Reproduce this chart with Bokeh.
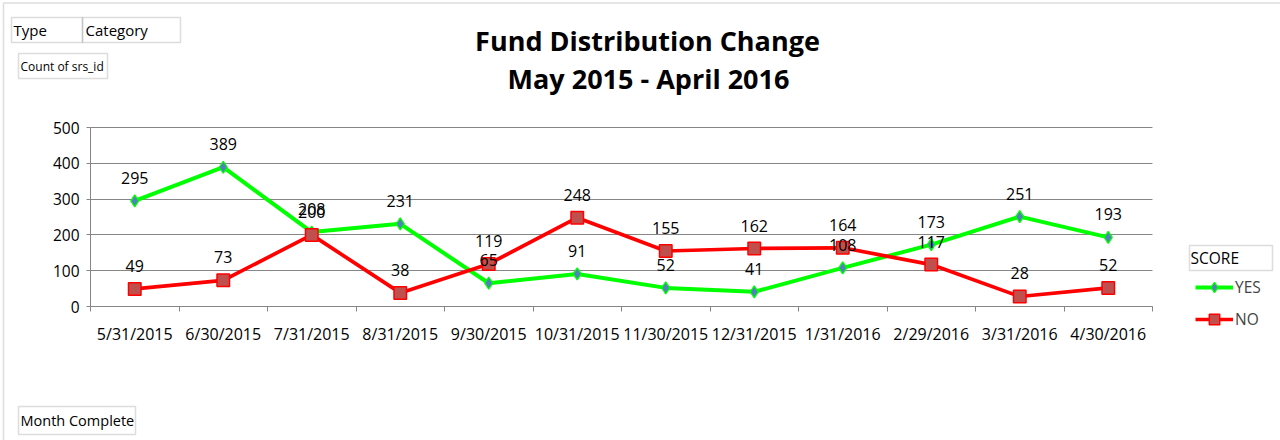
from bokeh.plotting import figure
from bokeh.models import Range1d, FixedTicker, Label, BoxAnnotation, Legend, LegendItem
from bokeh.core.properties import value
from bokeh.embed import file_html
from bokeh.resources import INLINE

months = ["5/31/2015", "6/30/2015", "7/31/2015", "8/31/2015", "9/30/2015", "10/31/2015",
          "11/30/2015", "12/31/2015", "1/31/2016", "2/29/2016", "3/31/2016", "4/30/2016"]
yes_counts = [295, 389, 208, 231, 65, 91, 52, 41, 108, 173, 251, 193]
no_counts = [49, 73, 200, 38, 119, 248, 155, 162, 164, 117, 28, 52]
y_ticks = [0, 100, 200, 300, 400, 500]

n = len(months)
xs = [i + 0.5 for i in range(n)]
bounds = list(range(n + 1))

FONT = "Open Sans"
GRID = "#868686"
BOX = "#8f8f8f"

# canvas layout (pixels)
W, H = 1280, 440
PL, PR, PT, PB = 90, 1152, 127, 306   # plot area edges
YMAX = y_ticks[-1]
xpu = (PR - PL) / n
ypu = (PB - PT) / YMAX
x_range = Range1d(-PL / xpu, n + (W - PR) / xpu)
y_range = Range1d(-(H - PB) / ypu, YMAX + PT / ypu)

p = figure(width=W, height=H, output_backend="svg", toolbar_location=None,
           x_range=x_range, y_range=y_range, title=None)
p.min_border = 0
p.outline_line_color = None
p.xgrid.visible = False
p.ygrid.ticker = FixedTicker(ticks=y_ticks)
p.ygrid.grid_line_color = GRID
p.ygrid.cross_bounds = (0, n)

p.yaxis.fixed_location = 0
p.yaxis.bounds = (0, YMAX)
p.yaxis.ticker = FixedTicker(ticks=y_ticks)
p.yaxis.axis_line_color = GRID
p.yaxis.major_tick_line_color = GRID
p.yaxis.major_tick_out = 4
p.yaxis.major_tick_in = 0
p.yaxis.minor_tick_line_color = None
p.yaxis.major_label_text_font = FONT
p.yaxis.major_label_text_font_size = "15.5px"
p.yaxis.major_label_text_color = "black"
p.yaxis.major_label_standoff = 7

p.xaxis.fixed_location = 0
p.xaxis.bounds = (0, n)
p.xaxis.ticker = FixedTicker(ticks=xs, minor_ticks=bounds)
p.xaxis.major_label_overrides = {x: m for x, m in zip(xs, months)}
p.xaxis.axis_line_color = GRID
p.xaxis.major_tick_line_color = None
p.xaxis.major_tick_out = 0
p.xaxis.major_tick_in = 0
p.xaxis.minor_tick_line_color = GRID
p.xaxis.minor_tick_out = 5
p.xaxis.minor_tick_in = 0
p.xaxis.major_label_text_font = FONT
p.xaxis.major_label_text_font_size = "16px"
p.xaxis.major_label_text_color = "black"
p.xaxis.major_label_standoff = 11

yes_line = p.line(xs, yes_counts, line_color="#00FF00", line_width=4)
yes_mk = p.scatter(xs, yes_counts, marker="diamond", size=12,
                   fill_color="#4F81BD", line_color="#00FF00", line_width=1.3)
no_line = p.line(xs, no_counts, line_color="#FF0000", line_width=3.7)
no_mk = p.scatter(xs, no_counts, marker="square", size=12.5,
                  fill_color="#C0504D", line_color="#FF0000", line_width=1.5)

for vals in (yes_counts, no_counts):
    p.text(x=xs, y=vals, text=[str(v) for v in vals], y_offset=-23,
           text_align="center", text_baseline="middle", text_color="black",
           text_font=value(FONT), text_font_size="16px")

def sy(py):
    return H - py

legend = Legend(items=[LegendItem(label="YES", renderers=[yes_line, yes_mk]),
                       LegendItem(label="NO", renderers=[no_line, no_mk])],
                location=(1195, sy(332)), orientation="vertical", padding=0, margin=0,
                border_line_color=None, background_fill_alpha=0,
                glyph_width=38, glyph_height=26, label_height=20, spacing=6,
                label_standoff=2, label_text_font=FONT, label_text_font_size="15.5px")
p.add_layout(legend, "center")

def screen_box(l, r, t, b, color, w):
    return BoxAnnotation(left=l, right=r, top=sy(t), bottom=sy(b),
                         left_units="screen", right_units="screen", top_units="screen",
                         bottom_units="screen", fill_alpha=0, line_color=color, line_width=w)

# outer chart border (left and top edges)
p.add_layout(screen_box(3, 3000, 2.5, 3000, BOX, 1.5))

boxes = [
    (11, 82, 17, 42, "Type", 13, 15),
    (82, 180, 17, 42, "Category", 85, 15),
    (18, 107, 53, 78, "Count of srs_id", 20, 12),
    (18, 135, 406, 434, "Month Complete", 20, 14.5),
    (1189, 1272, 245, 270, "SCORE", 1190, 15.5),
]
for l, r, t, b, txt, tx, fs in boxes:
    p.add_layout(screen_box(l, r, t, b, BOX, 1.5))
    p.add_layout(Label(x=tx, y=sy((t + b) / 2), x_units="screen", y_units="screen", text=txt,
                       text_align="left", text_baseline="middle", text_font=FONT,
                       text_font_size=f"{fs}px", text_color="black"))

for txt, cx, cy in (("Fund Distribution Change", 647, 40), ("May 2015 - April 2016", 648, 78)):
    p.add_layout(Label(x=cx, y=sy(cy), x_units="screen", y_units="screen",
                       text=txt, text_align="center", text_baseline="middle",
                       text_font=FONT, text_font_style="bold", text_font_size="27px",
                       text_color="black"))

open("out.html", "w").write(file_html(p, INLINE))
